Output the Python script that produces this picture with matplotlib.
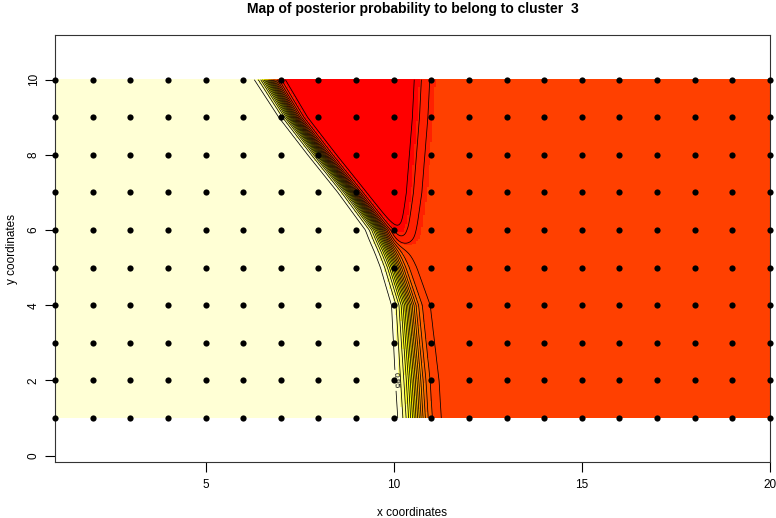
import numpy as np
import matplotlib
matplotlib.use('Agg')
import matplotlib.pyplot as plt
from matplotlib.colors import ListedColormap, BoundaryNorm

plt.rcParams['font.family'] = ['Liberation Sans', 'DejaVu Sans']

# grid of sampled sites
site_x = np.arange(1, 21)
site_y = np.arange(1, 11)

# centre of the cluster 3 border (x read at each row y=1..10)
rows_y = [1, 2, 3, 4, 5, 6, 7, 8, 9, 10]
band_x = [10.6, 10.54, 10.46, 10.38, 10.06, 9.66, 8.9, 8.1, 7.33, 6.71]
band_w = [0.18, 0.18, 0.17, 0.16, 0.15, 0.14, 0.13, 0.13, 0.13, 0.14]

# right edge of the red pocket (prob ~0), tip at the bottom
red_y = [5.55, 6, 7, 8, 9, 10]
red_x = [10.3, 10.35, 10.49, 10.57, 10.65, 10.7]

p_left = 1.0     # left side, cluster 3
p_right = 0.18   # orange area
tip_y = 5.6

# heat.colors(12)
heat = ['#FF0000', '#FF2000', '#FF4000', '#FF6000', '#FF8000', '#FF9F00',
        '#FFBF00', '#FFDF00', '#FFFF00', '#FFFF2A', '#FFFF80', '#FFFFD5']
levels = [0.05, 0.1, 0.15, 0.2, 0.25, 0.3, 0.35, 0.4, 0.45, 0.5,
          0.55, 0.6, 0.65, 0.7, 0.75, 0.8, 0.85, 0.9]
label_level = 0.95

# posterior map on a fine grid
gx = np.linspace(1, 20, 400)
gy = np.linspace(1, 10, 220)
X, Y = np.meshgrid(gx, gy)
sig = lambda z: 1 / (1 + np.exp(-z))
c = np.interp(Y, rows_y, band_x)
w = np.interp(Y, rows_y, band_w)
xr = np.interp(Y, red_y, red_x)
right = p_right * (1 - (1 - sig((X - xr) / 0.16)) * sig((Y - tip_y) / 0.12))
P = right + (p_left - right) * (1 - sig((X - c) / w))

fig = plt.figure(figsize=(7.76, 5.18), dpi=100)
ax = fig.add_axes([55/776, 56/518, 715/776, 427/518])

cmap = ListedColormap(heat)
norm = BoundaryNorm(np.linspace(0, 1, 13), 12)
ax.imshow(P, extent=(1, 20, 1, 10), origin='lower', cmap=cmap, norm=norm,
          aspect='auto', interpolation='nearest', zorder=0)
ax.contour(X, Y, P, levels=levels, colors='black', linewidths=0.55, zorder=1)
cs95 = ax.contour(X, Y, P, levels=[label_level], colors='black',
                  linewidths=0.55, zorder=1)
ax.clabel(cs95, fontsize=6, inline=True, fmt='%.2f', manual=[(10.0, 2.0)])

SX, SY = np.meshgrid(site_x, site_y)
ax.scatter(SX.ravel(), SY.ravel(), s=20, c='black', zorder=3, clip_on=False,
           linewidths=0)

ax.set_xlim(1, 20)
ax.set_ylim(-0.17, 11.19)
ax.set_xticks([5, 10, 15, 20])
ax.set_yticks([0, 2, 4, 6, 8, 10])
ax.tick_params(direction='out', length=7, width=0.8, labelsize=8.5)
ax.tick_params(axis='x', pad=5)
ax.tick_params(axis='y', pad=4)
for lab in ax.get_yticklabels():
    lab.set_rotation(90)
    lab.set_va('center')
for sp in ax.spines.values():
    sp.set_linewidth(0.8)
    sp.set_color('#333333')

ax.set_title('Map of posterior probability to belong to cluster  3',
             fontsize=10, fontweight='bold', pad=16)
ax.set_xlabel('x coordinates', fontsize=8.5, labelpad=12)
ax.set_ylabel('y coordinates', fontsize=8.5, labelpad=7)

fig.savefig('out.png', dpi=100)
